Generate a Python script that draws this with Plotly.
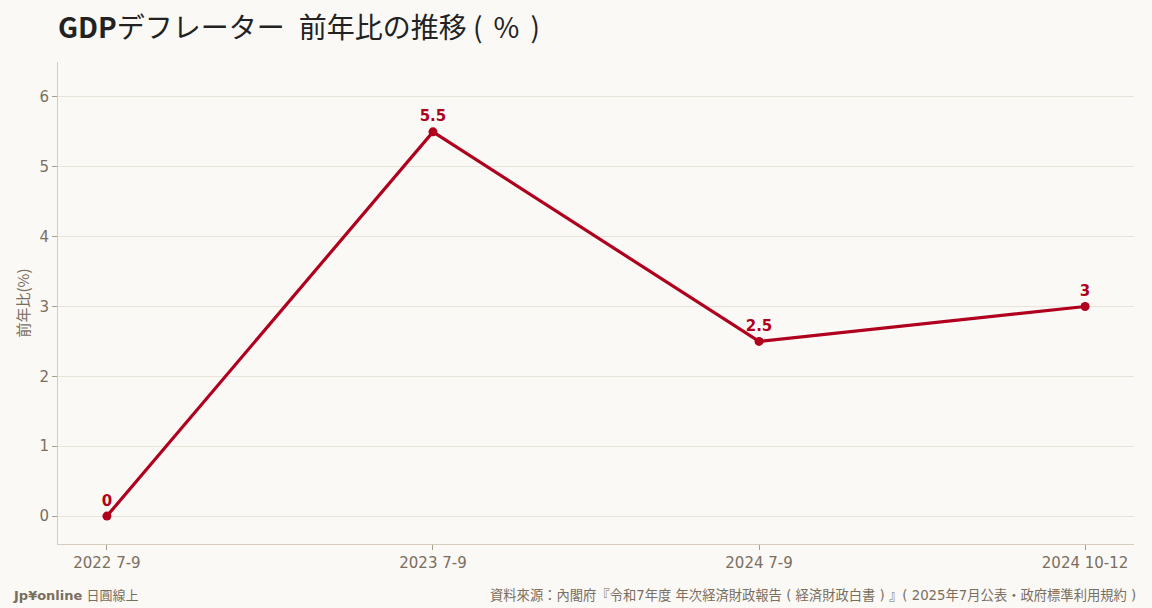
import plotly.graph_objects as go

# data
periods = ["2022 7-9", "2023 7-9", "2024 7-9", "2024 10-12"]
yoy = [0, 5.5, 2.5, 3]
labels = ["0", "5.5", "2.5", "3"]

TITLE = "<b>GDP</b>デフレーター\u2002前年比の推移 (\u2004\u200a%\u2004\u200a)"
Y_TITLE = "前年比(%)"
SOURCE = "資料來源：內閣府『令和7年度 年次経済財政報告 ( 経済財政白書 ) 』( 2025年7月公表・政府標準利用規約 )"
BRAND = "<b>Jp¥online</b> 日圓線上"

RED = "#b0001e"
BG = "#faf9f6"
TXT = "#7a6e5e"

W, H = 1152, 608
L, R, T, B = 58, 18, 62, 64
pw, ph = W - L - R, H - T - B

fig = go.Figure()
fig.add_trace(go.Scatter(
    x=periods, y=yoy, mode="lines+markers+text",
    line=dict(color=RED, width=3.2),
    marker=dict(color=RED, size=9),
    text=labels, textposition="top center",
    textfont=dict(color=RED, size=15, family="DejaVu Sans"),
    texttemplate="<b>%{text}</b>",
    hoverinfo="x+y", showlegend=False,
))

fig.update_layout(
    width=W, height=H,
    paper_bgcolor=BG, plot_bgcolor=BG,
    margin=dict(l=L, r=R, t=T, b=B),
    font=dict(family="DejaVu Sans, Noto Sans CJK JP", color=TXT, size=15),
    title=dict(text=TITLE, x=L / W, xanchor="left", y=1 - 28 / H, yanchor="middle",
               font=dict(family="Noto Sans CJK JP", size=28, color="#222222")),
)
fig.update_xaxes(
    type="category", range=[-0.15, 3.15],
    showline=True, linecolor="#d6cdbd", linewidth=1,
    showgrid=False, ticks="outside", ticklen=5, tickcolor="#a89e8e",
    tickfont=dict(size=15, color=TXT),
)
fig.update_yaxes(
    range=[-0.4, 6.5], dtick=1,
    showline=True, linecolor="#d6cdbd", linewidth=1,
    gridcolor="#e8e3d8", zeroline=False,
    ticks="outside", ticklen=5, tickcolor="#a89e8e",
    tickfont=dict(size=15, color=TXT),
    title=dict(text=Y_TITLE, font=dict(size=15, color=TXT, family="Noto Sans CJK JP"), standoff=6),
)

# footer texts, placed in paper coords below the plot area
fy = -(595 - (H - B)) / ph
fig.add_annotation(text=BRAND, x=(11 - L) / pw, y=fy, xref="paper", yref="paper",
                   xanchor="left", yanchor="middle", showarrow=False,
                   font=dict(size=13, color=TXT, family="DejaVu Sans, Noto Sans CJK JP"))
fig.add_annotation(text=SOURCE, x=(1138 - L) / pw, y=fy, xref="paper", yref="paper",
                   xanchor="right", yanchor="middle", showarrow=False,
                   font=dict(size=13.3, color=TXT, family="DejaVu Sans, Noto Sans CJK JP"))

fig.write_html("out.html", config={"displayModeBar": False},
               post_script="document.body.style.margin='0';")
